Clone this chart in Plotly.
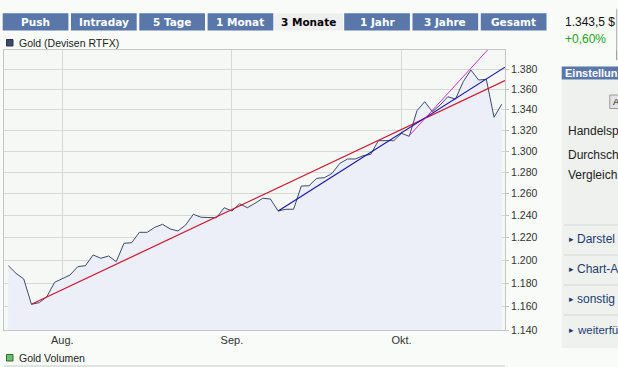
import math
import pandas as pd
import plotly.graph_objects as go

# ---------------- data ----------------
dates = [d.strftime("%Y-%m-%d") for d in pd.bdate_range("2010-07-22", "2010-10-20")]
prices = [1195.1, 1188.4, 1183.5, 1161.7, 1163.1, 1168.2, 1180.6, 1184.1, 1186.9, 1194.2,
          1195.1, 1204.5, 1201.6, 1203.6, 1198.6, 1214.9, 1215.4, 1224.7, 1224.7, 1229.2,
          1231.9, 1227.7, 1225.9, 1231.3, 1241.0, 1238.3, 1238.3, 1237.9, 1247.0, 1244.0,
          1250.7, 1247.0, 1251.1, 1255.7, 1255.0, 1244.0, 1245.6, 1245.6, 1267.0, 1267.3,
          1274.2, 1274.8, 1278.9, 1288.3, 1292.4, 1292.4, 1295.5, 1296.8, 1309.9, 1309.9,
          1309.9, 1317.0, 1314.1, 1339.0, 1347.9, 1338.0, 1344.6, 1352.8, 1350.5, 1367.8,
          1379.6, 1369.5, 1370.2, 1332.6, 1345.4]

y_ticks = [1140, 1160, 1180, 1200, 1220, 1240, 1260, 1280, 1300, 1320, 1340, 1360, 1380]
y_range = [1140, 1400]
month_ticks = ["2010-08-02", "2010-09-01", "2010-10-01"]
month_labels = ["Aug.", "Sep.", "Okt."]

# trend lines: (trading-day index, price)
red_trend_x = [3, 64.42]
red_trend_y = [1161.7, 1369.0]
blue_trend_x = [35, 64.42]
blue_trend_y = [1244.0, 1382.5]
magenta_trend_x = [52, 63]
magenta_trend_y = [1314.7, 1407.3]

tabs = ["Push", "Intraday", "5 Tage", "1 Monat", "3 Monate", "1 Jahr", "3 Jahre", "Gesamt"]
active_tab = "3 Monate"
series_name = "Gold (Devisen RTFX)"
volume_name = "Gold Volumen"
last_price = "1.343,5 $"
change_pct = "+0,60%"
panel_title = "Einstellun"
panel_button = "A"
panel_labels = ["Handelsp", "Durchsch", "Vergleich"]
panel_links = ["Darstel", "Chart-A", "sonstig", "weiterfü"]

# ---------------- figure ----------------
W, H = 618, 367
def px(x):
    return x / W
def py(y):
    return 1 - y / H

x_idx = list(range(len(dates)))
LINE = "#3d4b6b"
GRID = "#d6dad6"
BORDER = "#c4c8c4"
PAGE = "#f8fbf8"
FONT = "Liberation Sans, Arial, sans-serif"

fig = go.Figure()
fig.add_trace(go.Scatter(x=x_idx, y=[1100] * len(x_idx), mode="lines",
                         line=dict(width=0, color="rgba(0,0,0,0)"), hoverinfo="skip"))
fig.add_trace(go.Scatter(x=x_idx, y=prices, mode="lines", fill="tonexty",
                         fillcolor="#eceef8", line=dict(color=LINE, width=1)))
fig.add_trace(go.Scatter(x=red_trend_x, y=red_trend_y, mode="lines",
                         line=dict(color="#d0142c", width=1.2)))
fig.add_trace(go.Scatter(x=blue_trend_x, y=blue_trend_y, mode="lines",
                         line=dict(color="#1414a8", width=1.2)))
fig.add_trace(go.Scatter(x=magenta_trend_x, y=magenta_trend_y, mode="lines",
                         line=dict(color="#d030d0", width=1)))

fig.update_layout(
    width=W, height=H, margin=dict(l=0, r=0, t=0, b=0, autoexpand=False),
    paper_bgcolor=PAGE, plot_bgcolor="#f5f8f5", separators=",.", showlegend=False,
    font=dict(family=FONT, size=11, color="#333333"),
)
fig.update_xaxes(
    domain=[px(4), px(505)], range=[-0.56, 64.42],
    tickmode="array", tickvals=[dates.index(d) for d in month_ticks], ticktext=month_labels,
    showgrid=True, gridcolor=GRID, gridwidth=1, zeroline=False,
    showline=True, mirror=True, linecolor=BORDER, linewidth=1, ticks="",
    tickfont=dict(size=11, color="#333333", family=FONT),
)
fig.update_yaxes(
    domain=[py(330), py(50)], type="log",
    range=[math.log10(y_range[0]), math.log10(y_range[1])],
    tickmode="array", tickvals=y_ticks, tickformat=",d", side="right",
    showgrid=True, gridcolor=GRID, gridwidth=1, zeroline=False,
    showline=True, mirror=True, linecolor=BORDER, linewidth=1,
    ticks="outside", ticklen=3, tickcolor=BORDER,
    tickfont=dict(size=10.5, color="#333333", family=FONT),
)

shapes = []
annotations = []

def rect(x0, y0, x1, y1, fill, line=None, lw=0):
    shapes.append(dict(type="rect", xref="paper", yref="paper",
                       x0=px(x0), x1=px(x1), y0=py(y1), y1=py(y0),
                       fillcolor=fill, line=dict(color=line or fill, width=lw), layer="above"))

def hline(x0, x1, y, color, w=1):
    shapes.append(dict(type="line", xref="paper", yref="paper",
                       x0=px(x0), x1=px(x1), y0=py(y), y1=py(y),
                       line=dict(color=color, width=w), layer="above"))

def vline(x, y0, y1, color, w=1):
    shapes.append(dict(type="line", xref="paper", yref="paper",
                       x0=px(x), x1=px(x), y0=py(y0), y1=py(y1),
                       line=dict(color=color, width=w), layer="above"))

def text(x, y, s, size=12, color="#222222", bold=False, anchor="left", family=FONT):
    annotations.append(dict(xref="paper", yref="paper", x=px(x), y=py(y), text=("<b>%s</b>" % s) if bold else s,
                            showarrow=False, xanchor=anchor, yanchor="middle",
                            font=dict(size=size, color=color, family=family)))

# tab bar
TAB = "#5a77aa"
for i, t in enumerate(tabs):
    x0 = 2.7 + 68.3 * i
    x1 = x0 + 65.7
    if t == active_tab:
        rect(x0 - 1.5, 13.3, x1 + 1.5, 30.5, "#efefef")
        text((x0 + x1) / 2, 22, t, size=10.5, color="#000000", bold=True, anchor="center",
             family="DejaVu Sans, Verdana, sans-serif")
    else:
        rect(x0, 13.3, x1, 30.5, TAB)
        text((x0 + x1) / 2, 22, t, size=10.5, color="#ffffff", bold=True, anchor="center",
             family="DejaVu Sans, Verdana, sans-serif")

# price box
text(562.5, 21.5, last_price, size=12, color="#111111")
text(562.5, 38.5, change_pct, size=12, color="#22a022")
vline(616.7, 9, 50, "#a8aca8")
vline(616.7, 50, 60, "#8c908c")

# legend entries
rect(6.5, 39.5, 13, 46, "#3c4a72", "#2a3450", 1)
text(17, 43.3, series_name, size=10.5, color="#222222")
rect(6.5, 354.5, 13, 361, "#6cc06c", "#2f6f2f", 1)
text(17, 358, volume_name, size=10.5, color="#222222")
hline(4, 505, 366, "#c8ccc8")

# right settings panel
rect(561.7, 79.5, 640, 348, "#eff1ef")
rect(561.7, 66.5, 640, 79.5, TAB)
text(562.5, 73, panel_title, size=11, color="#ffffff", bold=True)
rect(609.8, 95, 660, 108.5, "#e4e4e4", "#9a9a9a", 1)
text(610.5, 101.8, panel_button, size=9.5, color="#111111")
for lab, yy in zip(panel_labels, [130.7, 155, 175.3]):
    text(566, yy, lab, size=12, color="#222222")
for yy in [225, 255, 285, 315]:
    hline(564, 640, yy, "#d4d6d4")
for lab, yy in zip(panel_links, [239.3, 269.3, 299.3, 330]):
    text(567, yy, "▸", size=9, color="#1d3c6e")
    text(575, yy, lab, size=11.5 if len(lab) > 7 else 12, color="#1d3c6e")

fig.update_layout(shapes=shapes, annotations=annotations)

fig.write_html("out.html", config={"displayModeBar": False},
               post_script="document.body.style.margin='0';document.body.style.padding='0';")
